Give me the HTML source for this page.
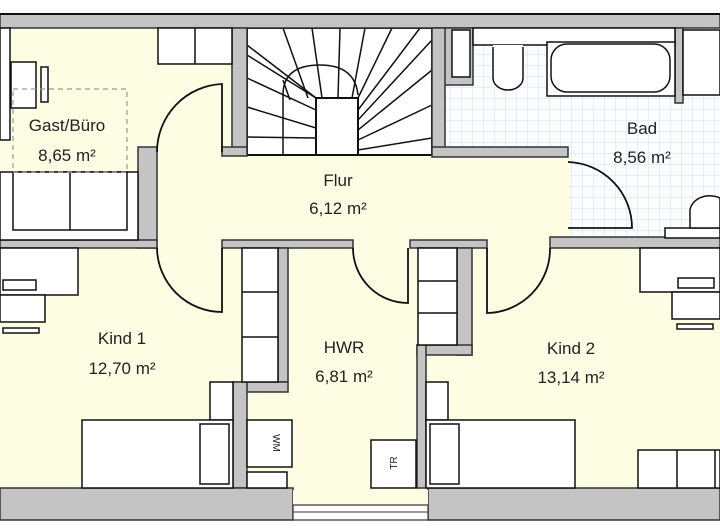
<!DOCTYPE html>
<html><head><meta charset="utf-8"><style>
html,body{margin:0;padding:0;background:#fff;}
svg{display:block;}
text{font-family:"Liberation Sans",sans-serif;fill:#222;}
</style></head><body>
<svg width="720" height="530" viewBox="0 0 720 530" xmlns="http://www.w3.org/2000/svg">
<defs>
<pattern id="tile" width="11" height="11" patternUnits="userSpaceOnUse">
<rect width="11" height="11" fill="#fbfdff"/>
<path d="M11 0V11M0 11H11" stroke="#cfe0ef" stroke-width="1"/>
</pattern>
</defs>
<rect width="720" height="530" fill="#fff"/>
<!-- floor -->
<rect x="0" y="28" width="720" height="462" fill="#fdfde4"/>
<rect x="445" y="28" width="275" height="210" fill="url(#tile)"/>
<rect x="445" y="155" width="125" height="85" fill="#fdfde4"/>
<!-- stairs -->
<rect x="247" y="28" width="185" height="127" fill="#fff" stroke="#111" stroke-width="2"/>
<g stroke="#111" stroke-width="1.5" fill="none">
<line x1="283" y1="28" x2="308" y2="98"/><line x1="312" y1="28" x2="322" y2="98"/>
<line x1="340" y1="28" x2="338" y2="98"/><line x1="365" y1="28" x2="352" y2="98"/>
<line x1="392" y1="28" x2="358" y2="98"/><line x1="420" y1="28" x2="358" y2="110"/>
<line x1="432" y1="40" x2="358" y2="120"/><line x1="432" y1="70" x2="358" y2="130"/>
<line x1="432" y1="105" x2="358" y2="140"/><line x1="432" y1="138" x2="358" y2="150"/>
<line x1="247" y1="45" x2="316" y2="98"/><line x1="247" y1="55" x2="316" y2="98"/>
<line x1="247" y1="78" x2="316" y2="110"/><line x1="247" y1="107" x2="316" y2="128"/>
<line x1="247" y1="137" x2="316" y2="138"/>
<path d="M283 155V95Q283 65 320 65Q355 65 358 95"/>
<line x1="283" y1="80" x2="290" y2="100"/>
</g>
<rect x="316" y="98" width="42" height="57" fill="#fff" stroke="#111" stroke-width="2"/>
<!-- walls -->
<g fill="#c4c4c4" stroke="#333" stroke-width="1.5">
<rect x="0" y="14" width="720" height="14"/>
<rect x="232" y="28" width="15" height="127"/>
<rect x="222" y="147" width="25" height="9"/>
<rect x="138" y="147" width="19" height="101"/>
<rect x="0" y="240" width="157" height="8"/>
<rect x="222" y="240" width="131" height="8"/>
<rect x="410" y="240" width="77" height="8"/>
<rect x="550" y="237" width="170" height="11"/>
<rect x="432" y="28" width="41" height="57"/>
<rect x="432" y="28" width="13" height="127"/>
<rect x="432" y="147" width="136" height="10"/>
<rect x="675" y="28" width="8" height="75"/>
<rect x="278" y="248" width="10" height="134"/>
<rect x="233" y="382" width="55" height="10"/>
<rect x="233" y="382" width="14" height="106"/>
<rect x="457" y="248" width="15" height="107"/>
<rect x="417" y="345" width="55" height="10"/>
<rect x="417" y="345" width="9" height="143"/>
<rect x="0" y="488" width="293" height="32"/>
<rect x="428" y="488" width="292" height="32"/>
</g>
<rect x="452" y="30" width="18" height="47" fill="#fff" stroke="#111" stroke-width="1.5"/>
<rect x="293" y="490" width="135" height="30" fill="#fdfde4"/>
<rect x="293" y="505" width="135" height="15" fill="#fff" stroke="#333" stroke-width="1.2"/>
<line x1="293" y1="512" x2="428" y2="512" stroke="#333"/>
<line x1="0" y1="14" x2="720" y2="14" stroke="#111" stroke-width="2"/>
<!-- doors -->
<g fill="none" stroke="#111" stroke-width="1.8">
<path d="M222 152V84A68 68 0 0 0 157 152"/>
<path d="M222 248V312A65 65 0 0 1 157 248"/>
<path d="M408 248V303A55 55 0 0 1 353 248"/>
<path d="M487 248V313A64 64 0 0 0 550 248"/>
<path d="M568 228H632A66 66 0 0 0 568 162"/>
</g>
<!-- Gast furniture -->
<g fill="#fff" stroke="#111" stroke-width="1.5">
<rect x="158" y="28" width="74" height="36"/><line x1="195" y1="28" x2="195" y2="64"/>
<rect x="0" y="28" width="10" height="112"/>
<rect x="11" y="62" width="25" height="46"/><rect x="41" y="67" width="7" height="35"/>
<rect x="0" y="172" width="138" height="68"/><rect x="13" y="172" width="114" height="58"/>
<line x1="70" y1="172" x2="70" y2="230"/>
<!-- Bad -->
<rect x="473" y="28" width="202" height="17"/>
<rect x="683" y="30" width="37" height="65"/>
<rect x="493" y="45" width="30" height="16" stroke="none"/>
<path d="M493 47V78A15 12 0 0 0 523 78V47"/>
<rect x="547" y="42" width="128" height="54"/>
<rect x="551" y="44" width="119" height="48" rx="16"/>
<rect x="665" y="228" width="55" height="10"/>
<path d="M690 228V210A20 16 0 0 1 720 198V228Z"/>
<!-- Kind1 -->
<rect x="0" y="248" width="78" height="47"/><rect x="0" y="295" width="45" height="27"/>
<rect x="3" y="328" width="36" height="5"/>
<rect x="3" y="280" width="33" height="10"/>
<rect x="242" y="248" width="36" height="134"/>
<line x1="242" y1="292" x2="278" y2="292"/><line x1="242" y1="337" x2="278" y2="337"/>
<rect x="210" y="382" width="23" height="38"/>
<rect x="82" y="420" width="151" height="68"/><rect x="200" y="424" width="29" height="60"/>
<!-- HWR -->
<rect x="247" y="420" width="45" height="47"/>
<rect x="247" y="472" width="40" height="16"/>
<rect x="371" y="440" width="45" height="48"/>
<rect x="418" y="248" width="39" height="97"/>
<line x1="418" y1="281" x2="457" y2="281"/><line x1="418" y1="313" x2="457" y2="313"/>
<!-- Kind2 -->
<rect x="426" y="382" width="22" height="38"/>
<rect x="426" y="420" width="149" height="68"/><rect x="430" y="424" width="29" height="60"/>
<rect x="640" y="248" width="80" height="44"/><rect x="672" y="292" width="48" height="27"/>
<rect x="677" y="324" width="36" height="5"/>
<rect x="678" y="278" width="36" height="10"/>
<rect x="638" y="450" width="82" height="38"/>
<line x1="677" y1="450" x2="677" y2="488"/><line x1="715" y1="450" x2="715" y2="488"/>
</g>
<rect x="13" y="89" width="114" height="83" fill="none" stroke="#999" stroke-width="1.2" stroke-dasharray="5,4"/>
<!-- labels -->
<g font-size="17" text-anchor="middle">
<text x="67" y="131">Gast/Büro</text><text x="67" y="161">8,65 m²</text>
<text x="338" y="186">Flur</text><text x="338" y="214">6,12 m²</text>
<text x="642" y="134">Bad</text><text x="642" y="163">8,56 m²</text>
<text x="122" y="344">Kind  1</text><text x="122" y="374">12,70 m²</text>
<text x="344" y="353">HWR</text><text x="344" y="382">6,81 m²</text>
<text x="571" y="354">Kind  2</text><text x="571" y="383">13,14 m²</text>
</g>
<text x="0" y="0" font-size="10" text-anchor="middle" transform="translate(273 443) rotate(90)">WM</text>
<text x="0" y="0" font-size="10" text-anchor="middle" transform="translate(397 463) rotate(-90)">TR</text>
</svg>
</body></html>
